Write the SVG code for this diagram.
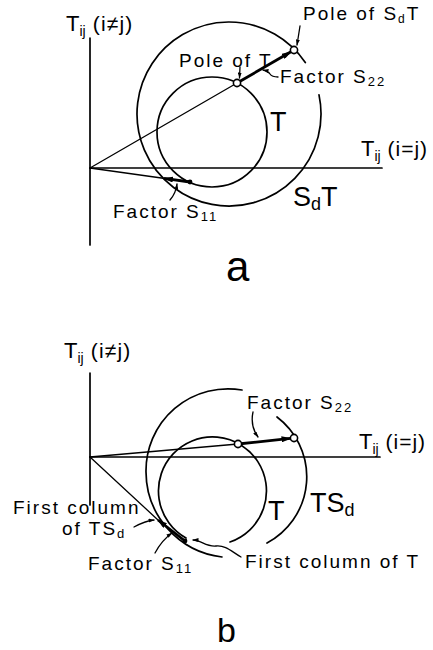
<svg xmlns="http://www.w3.org/2000/svg" width="433" height="650" viewBox="0 0 433 650">
<defs>
<marker id="ah" viewBox="0 0 10 6" refX="9" refY="3" markerWidth="10" markerHeight="6" markerUnits="userSpaceOnUse" orient="auto"><path d="M0,0 L10,3 L0,6 z" fill="#000"/></marker>
<marker id="ahs" viewBox="0 0 6 4" refX="5.5" refY="2" markerWidth="6" markerHeight="4" markerUnits="userSpaceOnUse" orient="auto"><path d="M0,0 L6,2 L0,4 z" fill="#000"/></marker>
</defs>
<style>
.ln{fill:none;stroke:#000;stroke-width:1.7;stroke-linecap:round}
.thin{fill:none;stroke:#000;stroke-width:1.3;stroke-linecap:round}
.bold{fill:none;stroke:#000;stroke-width:2.8}
.ptr{fill:none;stroke:#000;stroke-width:1.3;stroke-linecap:round}
.pole{fill:#fff;stroke:#000;stroke-width:1.6}
.dot{fill:#000}
text{font-family:"Liberation Sans",Arial,sans-serif;fill:#000}
.lbl{font-size:19px;letter-spacing:2px}
.big{font-size:27px}
.ax{font-size:22px}
</style>

<!-- ============ Panel a ============ -->
<g id="a-axes">
<line class="ln" x1="90" y1="38" x2="90" y2="245"/>
<line class="ln" x1="90" y1="168" x2="382" y2="168"/>
<text x="66" y="31" class="ax">T<tspan font-size="14" dx="0" dy="5">ij</tspan><tspan font-size="21" dy="-5" letter-spacing="1.2"> (i≠j)</tspan></text>
<text x="361" y="156" class="ax">T<tspan font-size="14" dx="0" dy="5">ij</tspan><tspan font-size="21" dy="-5" letter-spacing="1"> (i=j)</tspan></text>
</g>
<g id="a-circle-T">
<circle class="ln" cx="212" cy="132" r="55"/>
<text x="270" y="131" class="big">T</text>
</g>
<g id="a-circle-SdT">
<path class="ln" d="M319,94.9 A92,92 0 1 1 305.3,62.6"/>
<text x="293" y="206" class="big">S<tspan font-size="18" dy="4">d</tspan><tspan dy="-4">T</tspan></text>
</g>
<g id="a-pole-T">
<text x="179" y="67" class="lbl" letter-spacing="0.3" font-size="18">Pole of T</text>
</g>
<g id="a-pole-SdT">
<text x="303" y="20" class="lbl" letter-spacing="1" font-size="18">Pole of S<tspan font-size="12" dy="3">d</tspan><tspan dy="-3">T</tspan></text>
</g>
<g id="a-factor-S22">
<text x="280" y="83" class="lbl">Factor S<tspan font-size="13" dy="3">22</tspan></text>
</g>
<g id="a-factor-S11">
<text x="113" y="218" class="lbl">Factor S<tspan font-size="13" dy="3">11</tspan></text>
</g>
<g id="a-label">
<text x="226" y="281" font-size="42">a</text>
</g>
<g id="a-connectors">
<line class="thin" x1="90" y1="168" x2="237" y2="83"/>
<line class="bold" x1="237" y1="83" x2="291" y2="51.8" marker-end="url(#ah)"/>
<line class="thin" x1="90" y1="168" x2="190" y2="182"/>
<line class="bold" x1="190" y1="182" x2="164" y2="178.3" marker-end="url(#ah)"/>
<path class="ptr" d="M240,67 L239.5,78" marker-end="url(#ahs)"/>
<path class="ptr" d="M300,26 L297,45" marker-end="url(#ahs)"/>
<path class="ptr" d="M278,77 Q272,77 270,74 Q268,71 263,70" marker-end="url(#ahs)"/>
<path class="ptr" d="M170,200 Q176,193 177,184" marker-end="url(#ahs)"/>
<circle class="pole" cx="237" cy="83" r="3.6"/>
<circle class="pole" cx="294" cy="50" r="3.6"/>
<circle class="dot" cx="190" cy="182" r="2.4"/>
</g>

<!-- ============ Panel b ============ -->
<g id="b-axes">
<line class="ln" x1="90" y1="373" x2="90" y2="505"/>
<line class="ln" x1="90" y1="457" x2="380" y2="457"/>
<text x="64" y="358" class="ax">T<tspan font-size="14" dx="0" dy="5">ij</tspan><tspan font-size="21" dy="-5" letter-spacing="1.2"> (i≠j)</tspan></text>
<text x="359" y="449" class="ax">T<tspan font-size="14" dx="0" dy="5">ij</tspan><tspan font-size="21" dy="-5" letter-spacing="1"> (i=j)</tspan></text>
</g>
<g id="b-circle-T">
<path class="ln" d="M186,538 A54,54 0 1 1 230,542"/>
<text x="268" y="520" class="big">T</text>
</g>
<g id="b-circle-TSd">
<path class="ln" d="M242,390 A82,82 0 0 0 146,472 A86,86 0 0 0 222,557"/>
<path class="ln" d="M277,417 A75,75 0 0 1 267,543"/>
<text x="310" y="512" class="big">TS<tspan font-size="18" dy="4">d</tspan></text>
</g>
<g id="b-factor-S22">
<text x="247" y="409" class="lbl">Factor S<tspan font-size="13" dy="3">22</tspan></text>
</g>
<g id="b-first-col-TSd">
<text x="13" y="514" class="lbl" letter-spacing="2.3">First column</text>
<text x="62" y="535" class="lbl" letter-spacing="2.6">of TS<tspan font-size="13" dy="3">d</tspan></text>
</g>
<g id="b-factor-S11">
<text x="88" y="570" class="lbl">Factor S<tspan font-size="13" dy="3">11</tspan></text>
</g>
<g id="b-first-col-T">
<text x="245" y="568" class="lbl" letter-spacing="1.7">First column of T</text>
</g>
<g id="b-label">
<text x="217" y="642" font-size="34">b</text>
</g>
<g id="b-connectors">
<line class="thin" x1="90" y1="457" x2="238" y2="444"/>
<line class="bold" x1="238" y1="444" x2="290.5" y2="438.4" marker-end="url(#ah)"/>
<line class="thin" x1="90" y1="457" x2="158" y2="520"/>
<line class="bold" x1="185" y1="541" x2="158" y2="520" marker-end="url(#ah)"/>
<path class="ptr" d="M253,412 Q250,426 258,437" marker-end="url(#ahs)"/>
<path class="ptr" d="M134,527 Q145,521 154,520" marker-end="url(#ahs)"/>
<path class="ptr" d="M155,553 Q162,540 172,533" marker-end="url(#ahs)"/>
<path class="ptr" d="M241,557 C232,552 226,545 216,546 C206,547 201,540 193,540" marker-end="url(#ahs)"/>
<circle class="pole" cx="238" cy="444" r="3.6"/>
<circle class="pole" cx="294" cy="438" r="3.6"/>
<circle class="dot" cx="185" cy="541" r="2.4"/>
</g>
</svg>
